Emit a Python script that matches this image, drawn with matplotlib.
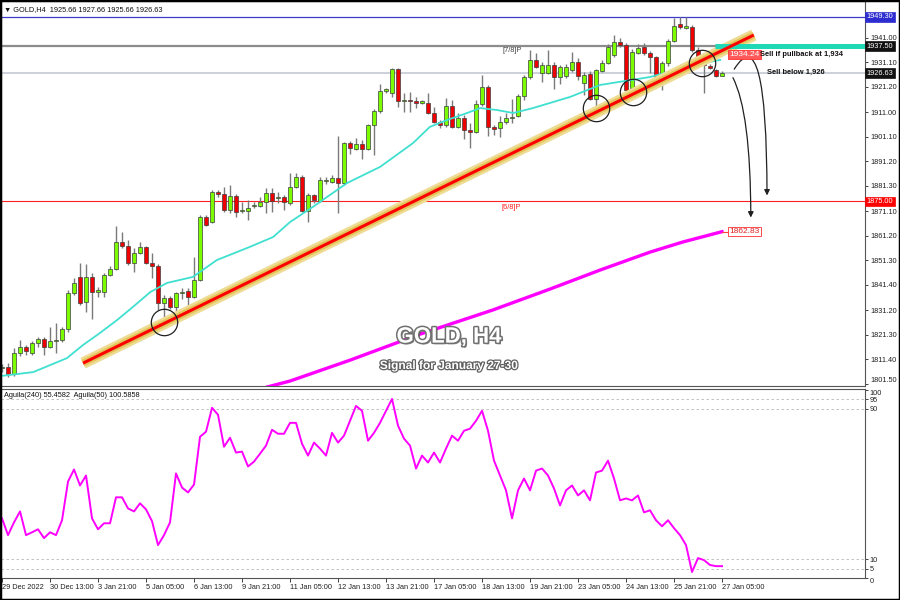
import numpy as np
import matplotlib
matplotlib.use('Agg')
import matplotlib.pyplot as plt
import matplotlib.patheffects as pe
from matplotlib.patches import FancyArrowPatch, Rectangle

plt.rcParams['font.family'] = ['Liberation Sans', 'DejaVu Sans']

# GOLD H4 candles, bar 0 = 29 Dec 2022
opens = [1807.9, 1808.3, 1805.5, 1813.9, 1816.4, 1814.0, 1818.0, 1819.6, 1816.4, 1818.8,
         1819.2, 1823.6, 1838.1, 1844.6, 1834.5, 1844.6, 1838.5, 1838.5, 1845.4, 1847.8,
         1858.6, 1857.1, 1850.2, 1854.2, 1856.7, 1850.2, 1849.0, 1834.1, 1836.1, 1832.5,
         1838.1, 1838.9, 1836.5, 1843.4, 1868.7, 1866.7, 1878.8, 1878.0, 1871.5, 1877.2,
         1871.3, 1871.1, 1873.1, 1873.1, 1874.8, 1878.4, 1876.2, 1876.8, 1874.4, 1880.8,
         1884.8, 1871.1, 1877.6, 1875.2, 1883.2, 1882.8, 1884.4, 1882.4, 1898.5, 1896.1,
         1898.1, 1896.1, 1905.8, 1911.4, 1919.5, 1918.7, 1928.3, 1915.4, 1915.8, 1915.4,
         1914.6, 1914.6, 1910.6, 1907.0, 1905.8, 1913.4, 1905.0, 1908.6, 1903.8, 1903.0,
         1914.2, 1921.1, 1905.0, 1904.6, 1907.0, 1908.6, 1909.4, 1917.5, 1925.1, 1932.0,
         1926.7, 1926.7, 1930.0, 1925.1, 1925.5, 1927.9, 1931.2, 1922.7, 1926.3, 1916.2,
         1927.5, 1930.8, 1934.0, 1939.2, 1938.0, 1920.7, 1934.8, 1937.2, 1934.8, 1933.2,
         1925.1, 1930.8, 1939.6, 1946.5, 1944.9, 1945.3, 1936.0, 1933.2, 1929.6, 1927.9,
         1925.66]
highs = [1809.5, 1810.0, 1816.0, 1819.2, 1817.2, 1818.8, 1820.4, 1820.4, 1824.4, 1826.0,
         1824.4, 1839.3, 1844.2, 1850.2, 1849.8, 1846.2, 1840.5, 1846.2, 1849.0, 1865.1,
         1862.7, 1859.5, 1856.3, 1858.7, 1857.1, 1854.2, 1850.0, 1837.3, 1836.9, 1838.5,
         1840.1, 1840.1, 1852.6, 1869.5, 1869.5, 1879.6, 1879.6, 1880.8, 1881.6, 1878.0,
         1874.8, 1875.6, 1874.8, 1876.8, 1880.4, 1880.4, 1878.8, 1877.6, 1886.4, 1886.4,
         1885.6, 1878.4, 1878.0, 1884.8, 1884.8, 1885.6, 1901.3, 1898.9, 1899.3, 1900.5,
         1899.7, 1906.2, 1912.2, 1922.3, 1920.7, 1928.7, 1928.7, 1918.7, 1919.1, 1917.0,
         1915.8, 1918.7, 1913.0, 1907.8, 1916.6, 1915.8, 1910.6, 1909.8, 1906.6, 1915.8,
         1925.9, 1921.9, 1905.8, 1909.4, 1910.6, 1916.2, 1918.3, 1925.9, 1936.0, 1934.8,
         1931.0, 1936.0, 1931.0, 1930.0, 1930.4, 1935.2, 1932.8, 1927.1, 1927.5, 1928.3,
         1932.0, 1938.4, 1942.0, 1940.8, 1938.8, 1936.4, 1938.4, 1938.8, 1935.6, 1933.6,
         1931.6, 1940.4, 1948.9, 1949.3, 1949.3, 1946.1, 1937.2, 1934.0, 1930.4, 1928.3,
         1927.66]
lows = [1806.5, 1804.3, 1804.6, 1812.8, 1813.2, 1813.2, 1816.4, 1813.2, 1816.0, 1814.0,
        1818.4, 1822.4, 1837.3, 1833.3, 1830.5, 1827.7, 1836.5, 1836.5, 1845.0, 1847.4,
        1856.3, 1849.4, 1846.6, 1853.8, 1849.8, 1844.2, 1831.3, 1826.1, 1831.7, 1830.1,
        1835.7, 1833.3, 1836.1, 1843.0, 1865.1, 1866.3, 1876.8, 1870.7, 1870.3, 1868.7,
        1870.3, 1867.5, 1872.3, 1872.7, 1870.3, 1870.7, 1874.4, 1871.5, 1873.6, 1880.4,
        1870.7, 1866.7, 1874.4, 1874.8, 1882.0, 1882.4, 1870.3, 1881.6, 1894.1, 1895.7,
        1892.1, 1895.7, 1893.7, 1910.6, 1918.7, 1917.1, 1913.0, 1911.0, 1911.0, 1912.6,
        1914.2, 1910.2, 1906.6, 1904.6, 1905.0, 1904.6, 1904.6, 1900.1, 1896.5, 1902.6,
        1913.4, 1901.3, 1901.7, 1900.9, 1906.2, 1906.6, 1909.0, 1915.8, 1924.3, 1928.7,
        1923.1, 1926.3, 1920.3, 1922.3, 1924.7, 1927.1, 1923.9, 1917.9, 1915.8, 1911.0,
        1927.1, 1930.4, 1933.2, 1937.2, 1918.7, 1917.9, 1934.4, 1934.0, 1926.7, 1922.7,
        1919.9, 1929.6, 1939.2, 1944.4, 1944.4, 1935.2, 1932.0, 1918.7, 1928.3, 1925.1,
        1925.66]
closes = [1808.5, 1805.5, 1813.9, 1816.4, 1814.8, 1818.0, 1819.6, 1816.4, 1818.8, 1819.4,
          1823.6, 1838.1, 1842.2, 1834.1, 1844.6, 1838.5, 1839.3, 1845.4, 1847.8, 1858.6,
          1857.1, 1850.2, 1854.2, 1856.7, 1850.2, 1849.0, 1834.1, 1836.1, 1832.5, 1838.1,
          1838.3, 1836.5, 1843.4, 1868.7, 1865.5, 1878.8, 1878.0, 1871.5, 1877.2, 1870.7,
          1871.7, 1872.3, 1873.3, 1874.8, 1878.4, 1875.2, 1876.4, 1874.8, 1880.8, 1884.8,
          1871.1, 1877.6, 1875.6, 1883.6, 1883.4, 1884.4, 1882.4, 1898.5, 1896.5, 1898.1,
          1896.1, 1905.8, 1911.4, 1919.5, 1920.3, 1928.3, 1915.4, 1915.6, 1915.4, 1914.6,
          1915.4, 1910.6, 1907.0, 1905.8, 1913.4, 1905.0, 1908.6, 1903.8, 1903.0, 1914.2,
          1921.1, 1905.0, 1904.2, 1907.0, 1908.6, 1909.0, 1917.5, 1925.1, 1932.0, 1929.2,
          1930.0, 1930.0, 1925.1, 1929.1, 1929.1, 1931.2, 1925.5, 1925.9, 1916.2, 1927.9,
          1930.8, 1937.2, 1939.2, 1938.0, 1919.9, 1935.2, 1936.8, 1934.8, 1933.2, 1925.1,
          1930.8, 1939.6, 1945.7, 1945.3, 1945.7, 1936.0, 1932.8, 1930.0, 1928.7, 1925.5,
          1926.63]

# short moving average (cyan), read at a few bars
ma_fast_bar = [-0.3, 5.2, 10.8, 13.5, 16.3, 19.2, 21.8, 24.7, 27.5, 31.8, 35.8, 41.3, 45.2,
               48, 51.8, 57.5, 63, 68.5, 71.3, 74.2, 77.5, 79.7, 82.5, 85.2, 88.5, 94.7,
               99.7, 108, 114.7, 119.7]
ma_fast_val = [1804.7, 1806.3, 1811.9, 1817.2, 1822.0, 1827.3, 1832.5, 1838.5, 1842.2,
               1844.6, 1851.4, 1856.7, 1860.7, 1866.7, 1872.8, 1882.4, 1888.9, 1898.5,
               1905.0, 1907.8, 1910.6, 1912.6, 1911.8, 1910.6, 1912.6, 1917.1, 1921.9,
               1925.1, 1929.5, 1932.0]

# long moving average (magenta)
ma_slow_bar = [44.2, 48, 58, 69.7, 81.8, 91.3, 99.7, 108, 113.5, 120]
ma_slow_val = [1800.3, 1802.7, 1811.1, 1821.6, 1831.3, 1839.7, 1847.4, 1854.6, 1858.7, 1862.83]

# oscillator Aguila in lower pane, one value per bar
osc = [31.7, 22.8, 29.6, 35.4, 22.8, 24.3, 25.9, 21.2, 24.3, 22.8,
       30.7, 51.3, 57.7, 49.2, 54.5, 31.7, 25.9, 29.1, 29.1, 42.9,
       42.9, 37.0, 35.4, 39.7, 36.5, 30.2, 17.5, 22.8, 29.6, 55.6,
       48.1, 45.5, 49.7, 75.1, 77.8, 90.5, 86.8, 69.8, 74.6, 66.7,
       67.2, 59.3, 61.9, 66.1, 70.4, 78.8, 76.7, 76.7, 82.5, 82.5,
       71.4, 65.1, 72.0, 68.8, 65.1, 77.2, 72.0, 75.7, 83.6, 91.5,
       88.9, 73.0, 77.2, 82.5, 88.9, 95.2, 81.0, 74.1, 70.4, 58.2,
       65.1, 61.4, 66.7, 61.4, 68.8, 75.7, 73.0, 78.3, 79.4, 83.6,
       88.9, 78.3, 62.4, 54.5, 46.6, 31.7, 46.6, 52.9, 46.6, 57.1,
       58.2, 54.5, 47.6, 38.6, 46.6, 49.2, 43.9, 46.6, 41.3, 56.1,
       57.1, 62.4, 52.9, 41.3, 42.3, 41.3, 43.9, 34.9, 36.0, 30.7,
       27.5, 30.7, 26.5, 22.8, 17.5, 3.2, 10.6, 9.5, 6.9, 6.3, 6.3]

# trendline (bar, price) ends
trend_bar = [13.5, 125.3]
trend_val = [1809.9, 1942.0]

# touch points circled on the chart
circle_bar = [27, 99, 105.2, 116.7]
circle_val = [1826.5, 1912.6, 1919.1, 1930.8]

price_ticks = [1941.00, 1931.10, 1921.20, 1911.00, 1901.10, 1891.20, 1881.30, 1871.10,
               1861.20, 1851.30, 1841.40, 1831.20, 1821.30, 1811.40, 1801.50]
osc_ticks = [0, 5, 10, 90, 95, 100]
date_bars = list(range(0, 121, 8))
date_labels = ['29 Dec 2022', '30 Dec 13:00', '3 Jan 21:00', '5 Jan 05:00', '6 Jan 13:00',
               '9 Jan 21:00', '11 Jan 05:00', '12 Jan 13:00', '13 Jan 21:00', '17 Jan 05:00',
               '18 Jan 13:00', '19 Jan 21:00', '23 Jan 05:00', '24 Jan 13:00', '25 Jan 21:00',
               '27 Jan 05:00']

fig = plt.figure(figsize=(9, 6), dpi=100)
fig.patch.set_facecolor('white')
ax = fig.add_axes([1 / 900, 214 / 600, 864 / 900, 385 / 600])
ax2 = fig.add_axes([1 / 900, 22 / 600, 864 / 900, 189 / 600], sharex=ax)

# ---- candles
o = np.array(opens); h = np.array(highs); l = np.array(lows); c = np.array(closes)
idx = np.arange(len(o))
up = c >= o
ax.vlines(idx, l, h, color='#7a7a7a', lw=1.0, zorder=3)
body_lo = np.minimum(o, c)
body_h = np.maximum(np.abs(c - o), 0.4)
ax.bar(idx[up], body_h[up], bottom=body_lo[up], width=0.7, color='#7cfc00',
       edgecolor='#3d3d3d', lw=0.5, zorder=4)
ax.bar(idx[~up], body_h[~up], bottom=body_lo[~up], width=0.7, color='#ee0000',
       edgecolor='#3d3d3d', lw=0.5, zorder=4)

# ---- moving averages
ax.plot(ma_fast_bar, ma_fast_val, color='#40e0d0', lw=1.3, zorder=5)
ax.plot(ma_slow_bar, ma_slow_val, color='#ff00ff', lw=2.4, zorder=5)

# ---- trendline with highlight
ax.plot(trend_bar, trend_val, color='#eedc94', lw=8.5, solid_capstyle='butt', zorder=6)
ax.plot(trend_bar, trend_val, color='#e2c55a', lw=5, solid_capstyle='butt', zorder=6)
ax.plot(trend_bar, trend_val, color='#ff0000', lw=2.2, solid_capstyle='butt', zorder=7)

ax.plot(circle_bar, circle_val, 'o', ms=19, mfc='none', mec='#202020', mew=0.9, zorder=8)

# ---- horizontal levels
ax.axhline(1949.30, color='#3c3cc8', lw=0.9, zorder=2)
ax.axhline(1937.50, color='#8c8c8c', lw=1.6, zorder=2)
ax.axhline(1926.63, color='#c3cad3', lw=1.2, zorder=2)
ax.axhline(1875.00, color='#ff2020', lw=0.8, zorder=2)
ax.plot([118.8, 144], [1937.5, 1937.5], color='#1fd9b6', lw=3.6, solid_capstyle='butt', zorder=6)
ax.plot([120, 121.2], [1862.83, 1862.83], color='#ff4040', lw=0.8, zorder=5)

ytr = ax.get_yaxis_transform()
for val, txt, fc, tc in [(1949.30, '1949.30', '#2c2cd0', 'white'),
                         (1937.50, '1937.50', '#111111', 'white'),
                         (1926.63, '1926.63', '#111111', 'white'),
                         (1875.00, '1875.00', '#ff0000', 'white')]:
    ax.text(1.002, val, txt, transform=ytr, fontsize=5.3, color=tc, va='center', ha='left',
            clip_on=False, zorder=10,
            bbox=dict(boxstyle='square,pad=0.18', fc=fc, ec=fc, lw=0.5))

ax.text(121.2, 1934.24, '1934.24', fontsize=6, color='white', va='center', ha='left', zorder=10,
        bbox=dict(boxstyle='square,pad=0.15', fc='#ff5a5a', ec='#ff3030', lw=0.6))
ax.text(121.2, 1862.83, '1862.83', fontsize=6, color='#e02020', va='center', ha='left', zorder=10,
        bbox=dict(boxstyle='square,pad=0.15', fc='white', ec='#ff3030', lw=0.6))
ax.text(126.3, 1934.3, 'Sell if pullback at 1,934', fontsize=5.4, fontweight='bold',
        color='#111111', va='center', ha='left', zorder=10)
ax.text(127.5, 1927.0, 'Sell below 1,926', fontsize=5.4, fontweight='bold',
        color='#111111', va='center', ha='left', zorder=10)
ax.text(85, 1935.6, '[7/8]P', fontsize=5.3, color='#404040', va='center', ha='center')
ax.text(84.8, 1872.6, '[6/8]P', fontsize=5.3, color='#ff2020', va='center', ha='center')

# ---- curved arrows
arr1 = FancyArrowPatch((121.6, 1925.8), (124.8, 1867.4), connectionstyle='angle3,angleA=-60,angleB=90',
                       arrowstyle='-|>', mutation_scale=8, lw=0.9, color='#202020', zorder=9)
arr2 = FancyArrowPatch((121.8, 1927.3), (127.5, 1876.3), connectionstyle='angle3,angleA=60,angleB=90',
                       arrowstyle='-|>', mutation_scale=8, lw=0.9, color='#202020', zorder=9)
ax.add_patch(arr1)
ax.add_patch(arr2)

# ---- title texts
fx = [pe.withSimplePatchShadow(offset=(1.2, -1.2), shadow_rgbFace='#333333', alpha=0.6),
      pe.withStroke(linewidth=2.2, foreground='#707070')]
ax.text(0.5185, 0.127, 'GOLD, H4', transform=ax.transAxes, fontsize=16, fontweight='bold',
        color='white', ha='center', va='center', zorder=11, path_effects=fx)
ax.text(0.518, 0.052, 'Signal for January 27-30', transform=ax.transAxes, fontsize=8.6,
        fontweight='bold', color='white', ha='center', va='center', zorder=11,
        path_effects=[pe.withStroke(linewidth=1.8, foreground='#606060')])

ax.text(0.004, 0.988, '\u25bc GOLD,H4  1925.66 1927.66 1925.66 1926.63', transform=ax.transAxes,
        fontsize=5.3, color='#111111', va='top', ha='left')

# ---- main axis formatting
ax.set_xlim(-0.17, 143.83)
ax.set_ylim(1800.7, 1955.7)
ax.yaxis.tick_right()
ax.set_yticks(price_ticks)
ax.set_yticklabels(['%.2f' % v for v in price_ticks])
ax.tick_params(axis='y', labelsize=5.3, length=2.5, width=0.6, pad=1.5, colors='#222222')
ax.tick_params(axis='x', bottom=False, labelbottom=False)
for sp in ax.spines.values():
    sp.set_color('#555555')
    sp.set_linewidth(0.8)
# bottom price label sits right at the pane edge
ax.get_yticklabels()[-1].set_va('bottom')

# ---- lower pane
ax2.plot(idx, osc, color='#ff00ff', lw=1.4, zorder=4)
for lev in [95, 90, 10, 5]:
    ax2.axhline(lev, color='#b8b8b8', lw=0.6, ls=(0, (3, 3)), zorder=1)
ax2.set_ylim(0, 100.5)
ax2.yaxis.tick_right()
ax2.set_yticks(osc_ticks)
ax2.set_yticklabels([str(v) for v in osc_ticks])
ax2.tick_params(axis='y', labelsize=5.3, length=2, width=0.6, pad=1.5, colors='#222222')
ylab = ax2.get_yticklabels()
ylab[-1].set_va('top')
ylab[0].set_va('top')
ax2.set_xticks(date_bars)
ax2.set_xticklabels(date_labels, ha='left')
ax2.tick_params(axis='x', labelsize=5.3, length=3, width=0.6, pad=1.5, colors='#222222')
ax2.text(0.004, 0.985, 'Aguila(240) 55.4582  Aguila(50) 100.5858', transform=ax2.transAxes,
         fontsize=5.3, color='#111111', va='top', ha='left')
for sp in ax2.spines.values():
    sp.set_color('#555555')
    sp.set_linewidth(0.8)

fig.add_artist(Rectangle((0, 0), 1, 1, transform=fig.transFigure, fill=False,
                         edgecolor='black', lw=2.5))

fig.savefig('out.png', dpi=100)
